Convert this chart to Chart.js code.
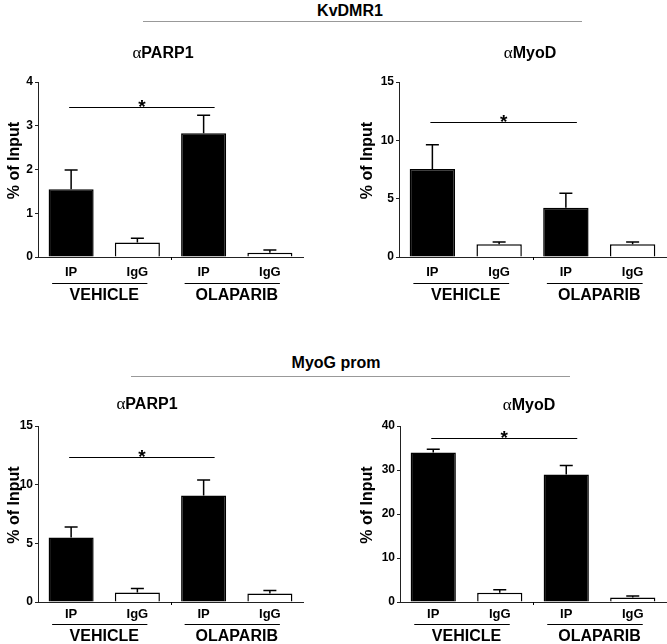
<!DOCTYPE html>
<html>
<head>
<meta charset="utf-8">
<script src="https://cdn.jsdelivr.net/npm/chart.js@4.4.1/dist/chart.umd.min.js"></script>
<style>
  body { margin: 0; background: #fff; }
  #wrap { position: relative; width: 667px; height: 644px; overflow: hidden; font-family: "Liberation Sans", Arial, sans-serif; }
  canvas { position: absolute; }
  .head { position: absolute; font-weight: bold; font-size: 16px; line-height: 20px; transform: translateX(-50%); white-space: nowrap; color: #000; }
  .rule { position: absolute; height: 1px; background: #999; }
</style>
</head>
<body>
<div id="wrap">
  <div class="head" style="left:350px;top:1px">KvDMR1</div>
  <div class="rule" style="left:143px;top:21px;width:439px"></div>
  <div class="head" style="left:336px;top:353px">MyoG prom</div>
  <div class="rule" style="left:131px;top:376px;width:439px"></div>
  <canvas id="c1" width="333" height="322" style="left:0;top:0"></canvas>
  <canvas id="c2" width="334" height="322" style="left:333px;top:0"></canvas>
  <canvas id="c3" width="333" height="322" style="left:0;top:322px"></canvas>
  <canvas id="c4" width="334" height="322" style="left:333px;top:322px"></canvas>
</div>
<script>
const categories = ['IP', 'IgG', 'IP', 'IgG'];
const groups = ['VEHICLE', 'OLAPARIB'];

// KvDMR1
const kvParp1Mean = [1.55, 0.33, 2.83, 0.10];
const kvParp1Err = [0.44, 0.10, 0.41, 0.06];
const kvParp1Sig = 3.44;
const kvMyodMean = [7.55, 1.09, 4.23, 1.09];
const kvMyodErr = [2.08, 0.20, 1.23, 0.20];
const kvMyodSig = 11.6;

// MyoG prom
const myogParp1Mean = [5.49, 0.80, 9.07, 0.72];
const myogParp1Err = [0.90, 0.34, 1.33, 0.25];
const myogParp1Sig = 12.36;
const myogMyodMean = [34.0, 2.1, 29.0, 1.0];
const myogMyodErr = [0.7, 0.7, 2.0, 0.36];
const myogMyodSig = 37.3;

const FONT = '"Liberation Sans", Arial, sans-serif';

const panels = [
    { id: 'c1', target: 'PARP1', mean: kvParp1Mean, err: kvParp1Err, sig: kvParp1Sig, yMax: 4, yStep: 1,
      pad: { left: 0, top: 82, right: 30, bottom: 0 }, yWidth: 38, xHeight: 65, tickPad: 8,
      titleX: 163, titleY: 52, yTitleX: 15, underDy: 26, groupDy: 39 },
    { id: 'c2', target: 'MyoD', mean: kvMyodMean, err: kvMyodErr, sig: kvMyodSig, yMax: 15, yStep: 5,
      pad: { left: 20, top: 82, right: 1, bottom: 0 }, yWidth: 46, xHeight: 65, tickPad: 8,
      titleX: 197, titleY: 52, yTitleX: 35, underDy: 26, groupDy: 39 },
    { id: 'c3', target: 'PARP1', mean: myogParp1Mean, err: myogParp1Err, sig: myogParp1Sig, yMax: 15, yStep: 5,
      pad: { left: 0, top: 104, right: 30, bottom: 0 }, yWidth: 38, xHeight: 42, tickPad: 5,
      titleX: 147, titleY: 81, yTitleX: 15, underDy: 22, groupDy: 35 },
    { id: 'c4', target: 'MyoD', mean: myogMyodMean, err: myogMyodErr, sig: myogMyodSig, yMax: 40, yStep: 10,
      pad: { left: 20, top: 104, right: 1, bottom: 0 }, yWidth: 47, xHeight: 42, tickPad: 5,
      titleX: 196, titleY: 82, yTitleX: 35, underDy: 22, groupDy: 35 }
];

// error bars, significance bar, titles and group labels
const decor = {
    id: 'decor',
    afterDatasetsDraw(chart, args, p) {
        const { ctx, chartArea, scales: { x, y } } = chart;
        ctx.save();
        ctx.strokeStyle = '#000';
        ctx.fillStyle = '#000';

        // upper error bars
        ctx.lineWidth = 1.5;
        p.mean.forEach((m, i) => {
            const cx = x.getPixelForValue(i);
            const y0 = y.getPixelForValue(m);
            const y1 = y.getPixelForValue(m + p.err[i]);
            ctx.beginPath();
            ctx.moveTo(cx, y0);
            ctx.lineTo(cx, y1);
            ctx.moveTo(cx - 6.5, y1);
            ctx.lineTo(cx + 6.5, y1);
            ctx.stroke();
        });

        // significance line + asterisk
        const sy = Math.round(y.getPixelForValue(p.sig)) + 0.5;
        const sx0 = x.getPixelForValue(0) - 2;
        const sx1 = x.getPixelForValue(2) + 11;
        ctx.lineWidth = 1;
        ctx.beginPath();
        ctx.moveTo(sx0, sy);
        ctx.lineTo(sx1, sy);
        ctx.stroke();
        ctx.font = 'bold 19px ' + FONT;
        ctx.textAlign = 'center';
        ctx.textBaseline = 'alphabetic';
        ctx.fillText('*', (sx0 + sx1) / 2, sy + 5);

        // mid tick on x axis
        const mid = Math.round((chartArea.left + chartArea.right) / 2) + 0.5;
        ctx.beginPath();
        ctx.moveTo(mid, chartArea.bottom);
        ctx.lineTo(mid, chartArea.bottom + 3);
        ctx.stroke();

        // panel title: alpha + target
        ctx.textAlign = 'left';
        ctx.font = '17px "Liberation Serif", serif';
        const wa = ctx.measureText('α').width;
        ctx.font = 'bold 16px ' + FONT;
        const wt = ctx.measureText(p.target).width;
        const tx = p.titleX - (wa + wt) / 2;
        const tb = p.titleY + 5.7;
        ctx.font = '17px "Liberation Serif", serif';
        ctx.fillText('α', tx, tb);
        ctx.font = 'bold 16px ' + FONT;
        ctx.fillText(p.target, tx + wa, tb);

        // y axis title
        ctx.save();
        ctx.translate(p.yTitleX, (chartArea.top + chartArea.bottom) / 2 - 9);
        ctx.rotate(-Math.PI / 2);
        ctx.textAlign = 'center';
        ctx.textBaseline = 'middle';
        ctx.fillText('% of Input', 0, 0);
        ctx.restore();

        // treatment groups
        ctx.textAlign = 'center';
        ctx.textBaseline = 'middle';
        groups.forEach((g, gi) => {
            const a = x.getPixelForValue(gi * 2);
            const b = x.getPixelForValue(gi * 2 + 1);
            const uy = Math.round(chartArea.bottom + p.underDy) + 0.5;
            ctx.beginPath();
            ctx.moveTo(a - 19, uy);
            ctx.lineTo(b + 10, uy);
            ctx.stroke();
            ctx.fillText(g, (a + b) / 2, chartArea.bottom + p.groupDy);
        });
        ctx.restore();
    }
};

panels.forEach(p => {
    new Chart(document.getElementById(p.id), {
        type: 'bar',
        data: {
            labels: categories,
            datasets: [{
                data: p.mean,
                backgroundColor: ['#000', '#fff', '#000', '#fff'],
                borderColor: '#000',
                borderWidth: 1.5,
                categoryPercentage: 1,
                barPercentage: 0.68
            }]
        },
        plugins: [decor],
        options: {
            responsive: false,
            animation: false,
            layout: { padding: p.pad },
            plugins: {
                legend: { display: false },
                tooltip: { enabled: false },
                decor: p
            },
            scales: {
                x: {
                    grid: { display: true, drawOnChartArea: false, drawTicks: false },
                    border: { display: true, color: '#222', width: 1 },
                    ticks: { color: '#000', padding: p.tickPad, font: { family: FONT, size: 13, weight: 'bold' } },
                    afterFit: s => { s.height = p.xHeight; }
                },
                y: {
                    min: 0,
                    max: p.yMax,
                    grid: { display: true, drawOnChartArea: false, drawTicks: true, tickLength: 3, color: '#222' },
                    border: { display: true, color: '#222', width: 1 },
                    ticks: { stepSize: p.yStep, color: '#000', padding: 2, font: { family: FONT, size: 12, weight: 'bold' } },
                    afterFit: s => { s.width = p.yWidth; }
                }
            }
        }
    });
});
</script>
</body>
</html>
